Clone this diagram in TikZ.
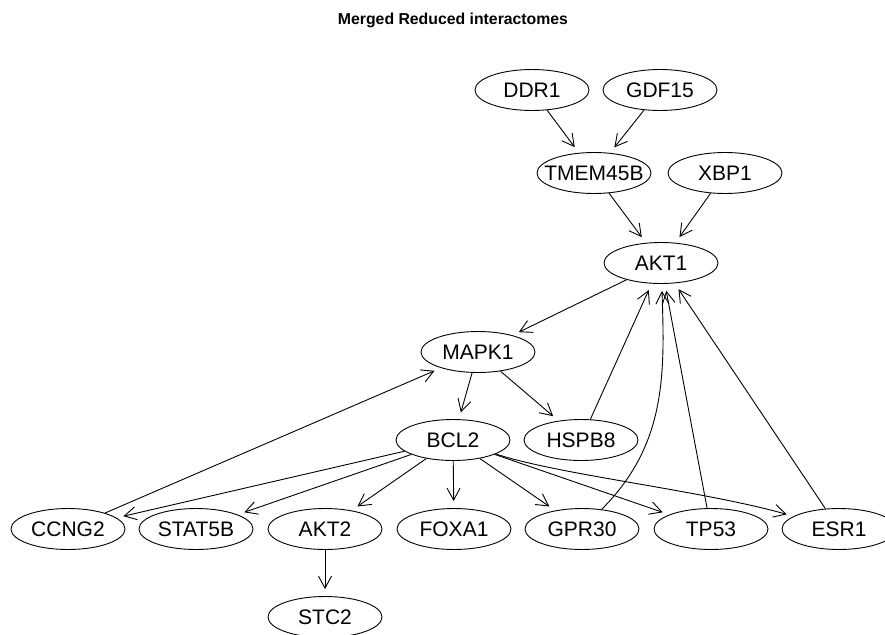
\documentclass[tikz,border=0pt]{standalone}
\usepackage{fontspec}
\setmainfont{Liberation Sans}
\usetikzlibrary{arrows.meta, shapes.geometric}

\begin{document}
\begin{tikzpicture}[x=1pt,y=1pt,line width=0.9pt,
  gene/.style={ellipse,draw,minimum width=114pt,minimum height=41pt,
    inner xsep=-14pt,inner ysep=0pt,text height=15pt,text depth=0pt,
    font=\fontsize{21}{25}\selectfont},
  link/.style={-{Straight Barb[length=12pt,width=13pt]},shorten >=7pt}]
\useasboundingbox (0,0) rectangle (885,-634);
% Title on top
\node[anchor=base,font=\fontsize{15.8}{19}\selectfont\bfseries] (title) at (453,-25) {Merged Reduced interactomes};
% Upper layers
\node[gene] (ddr1) at (532,-90) {DDR1};
\node[gene] (gdf15) at (660,-90) {GDF15};
\node[gene] (tmem) at (594,-173) {TMEM45B};
\node[gene] (xbp1) at (725,-173) {XBP1};
\node[gene] (akt1) at (661,-263) {AKT1};
\node[gene] (mapk1) at (478,-352) {MAPK1};
\node[gene] (bcl2) at (453,-440) {BCL2};
\node[gene] (hspb8) at (581,-440) {HSPB8};
% Bottom row
\node[gene] (ccng2) at (68,-529) {CCNG2};
\node[gene] (stat5b) at (196,-529) {STAT5B};
\node[gene] (akt2) at (325,-529) {AKT2};
\node[gene] (foxa1) at (454,-529) {FOXA1};
\node[gene] (gpr30) at (582,-529) {GPR30};
\node[gene] (tp53) at (711,-529) {TP53};
\node[gene] (esr1) at (839,-529) {ESR1};
\node[gene] (stc2) at (325,-617) {STC2};
% Edges into TMEM45B and AKT1
\draw[link] (ddr1) -- (tmem);
\draw[link] (gdf15) -- (tmem);
\draw[link] (tmem) -- (akt1);
\draw[link] (xbp1) -- (akt1);
\draw[link] (hspb8) -- (akt1);
\draw[link] (gpr30) to[out=45,in=-88] (akt1);
\draw[link] (tp53) -- (akt1);
\draw[link] (esr1) -- (akt1);
% Edges out of AKT1 and MAPK1
\draw[link] (akt1) -- (mapk1);
\draw[link] (mapk1) -- (bcl2);
\draw[link] (mapk1) -- (hspb8);
\draw[link] (ccng2) -- (mapk1);
% Edges out of BCL2
\draw[link] (bcl2) -- (ccng2);
\draw[link] (bcl2) -- (stat5b);
\draw[link] (bcl2) -- (akt2);
\draw[link] (bcl2) -- (foxa1);
\draw[link] (bcl2) -- (gpr30);
\draw[link] (bcl2) -- (tp53);
\draw[link] (bcl2) .. controls (560,-475) and (700,-490) .. (esr1);
\draw[link] (akt2) -- (stc2);
\end{tikzpicture}
\end{document}
